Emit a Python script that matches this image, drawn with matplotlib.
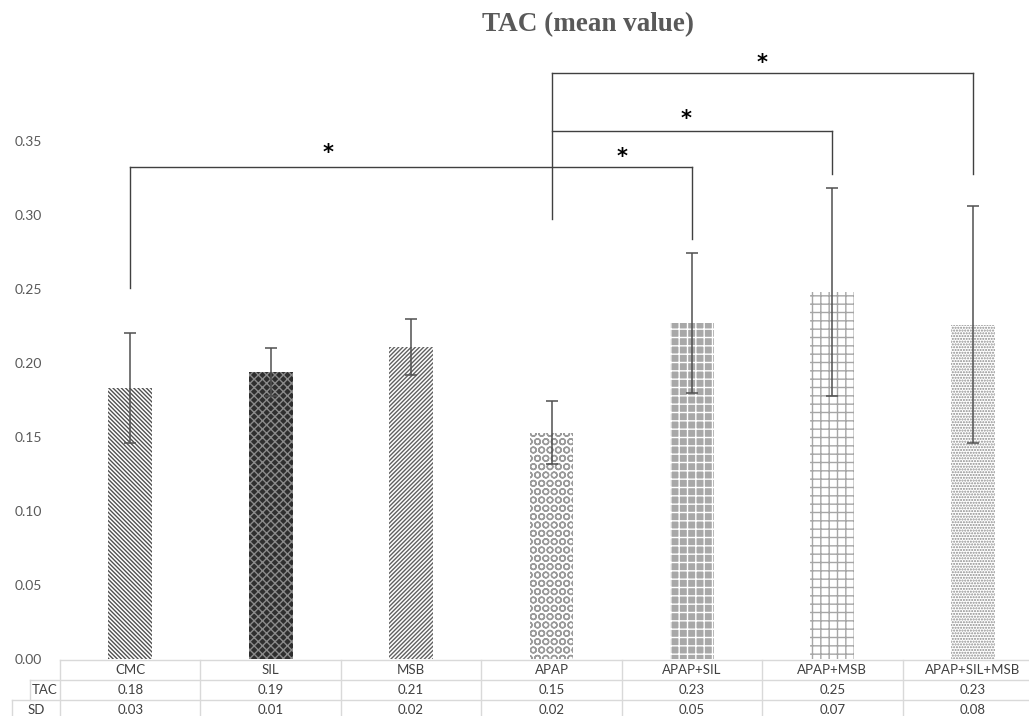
import matplotlib
matplotlib.use("Agg")
import matplotlib.pyplot as plt
import matplotlib.transforms as mtransforms

# Data
groups = ['CMC', 'SIL', 'MSB', 'APAP', 'APAP+SIL', 'APAP+MSB', 'APAP+SIL+MSB']
tac_mean = [0.183, 0.194, 0.211, 0.153, 0.227, 0.248, 0.226]
tac_err = [0.037, 0.016, 0.019, 0.021, 0.047, 0.070, 0.080]
tac_table = [0.18, 0.19, 0.21, 0.15, 0.23, 0.25, 0.23]
sd_table = [0.03, 0.01, 0.02, 0.02, 0.05, 0.07, 0.08]
yticks = [0.00, 0.05, 0.10, 0.15, 0.20, 0.25, 0.30, 0.35]

# significance brackets: (x0, x1, y, left_drop, right_drop)
brackets = [(0, 4, 0.3324, 0.251, 0.284),
            (3, 5, 0.357, None, 0.328),
            (3, 6, 0.396, None, 0.328)]
apap_stem = (3, 0.297, 0.396)
stars = [(1.41, 0.342), (3.50, 0.339), (3.96, 0.365), (4.50, 0.403)]

# bar styles
faces = ['white', '#2e2e2e', 'white', 'white', '#a8a8a8', 'white', 'white']
hatch_cols = ['#505050', '#8a8a8a', '#606060', '#9a9a9a', 'white', '#a6a6a6', '#8c8c8c']
hatches = ['\\' * 8, 'xxxx', '/' * 8, 'OO', '++', '++', '......']

plt.rcParams['font.family'] = ['Lato', 'DejaVu Sans']
plt.rcParams['hatch.linewidth'] = 1.0

W, H = 1029, 716
fig = plt.figure(figsize=(W / 100, H / 100), dpi=100)
ax = fig.add_axes([60 / W, (H - 659) / H, (1043 - 60) / W, 592 / H])

x = list(range(len(groups)))
bars = ax.bar(x, tac_mean, width=0.313, color=faces, edgecolor=hatch_cols, linewidth=0)
for b, h in zip(bars, hatches):
    b.set_hatch(h)
ax.errorbar(x, tac_mean, yerr=tac_err, fmt='none', ecolor='#505050', elinewidth=1.1,
            capsize=4, capthick=1.1)

ax.set_xlim(-0.5, 6.5)
ax.set_ylim(0, 0.40)
ax.set_yticks(yticks)
ax.set_yticklabels(['%.2f' % v for v in yticks], color='#595959', fontsize=10)
ax.tick_params(axis='y', length=0, pad=13)
ax.set_xticks([])
for s in ax.spines.values():
    s.set_visible(False)

# brackets
lc = '#404040'
for x0, x1, yb, dl, dr in brackets:
    ax.plot([x0, x1], [yb, yb], color=lc, lw=1.0, clip_on=False)
    if dl is not None:
        ax.plot([x0, x0], [dl, yb], color=lc, lw=1.0, clip_on=False)
    if dr is not None:
        ax.plot([x1, x1], [dr, yb], color=lc, lw=1.0, clip_on=False)
ax.plot([apap_stem[0], apap_stem[0]], [apap_stem[1], apap_stem[2]], color=lc, lw=1.0, clip_on=False)
for sx, sy in stars:
    ax.text(sx, sy, '*', fontsize=15, fontweight='bold', ha='center', va='center',
            color='black', family='DejaVu Sans', clip_on=False)

# data table under the axis
tr = mtransforms.blended_transform_factory(ax.transData, fig.transFigure)
def fy(p):
    return (H - p) / H

gc = '#d9d9d9'
ax.plot([-0.5, 6.5], [fy(660), fy(660)], color=gc, lw=1.0, transform=tr, clip_on=False)
ax.plot([-0.712, 6.5], [fy(680), fy(680)], color=gc, lw=1.0, transform=tr, clip_on=False)
ax.plot([-0.84, 6.5], [fy(700), fy(700)], color=gc, lw=1.0, transform=tr, clip_on=False)
for i in range(len(groups) + 1):
    ax.plot([i - 0.5, i - 0.5], [fy(660), fy(720)], color=gc, lw=1.0, transform=tr, clip_on=False)
ax.plot([-0.712, -0.712], [fy(680), fy(700)], color=gc, lw=1.0, transform=tr, clip_on=False)
ax.plot([-0.84, -0.84], [fy(700), fy(720)], color=gc, lw=1.0, transform=tr, clip_on=False)

tc = '#404040'
fs = 9.5
for i, g in enumerate(groups):
    ax.text(i, fy(670), g, ha='center', va='center', fontsize=fs, color=tc, transform=tr, clip_on=False)
    ax.text(i, fy(690), '%.2f' % tac_table[i], ha='center', va='center', fontsize=fs, color=tc,
            transform=tr, clip_on=False)
    ax.text(i, fy(710), '%.2f' % sd_table[i], ha='center', va='center', fontsize=fs, color=tc,
            transform=tr, clip_on=False)
ax.text(-0.606, fy(690), 'TAC', ha='center', va='center', fontsize=fs, color=tc, transform=tr, clip_on=False)
ax.text(-0.67, fy(710), 'SD', ha='center', va='center', fontsize=fs, color=tc, transform=tr, clip_on=False)

fig.text(588 / W, fy(25), 'TAC (mean value)', ha='center', va='center', fontsize=19.5,
         fontweight='bold', color='#595959', family='Liberation Serif')

fig.savefig('out.png', dpi=100)
